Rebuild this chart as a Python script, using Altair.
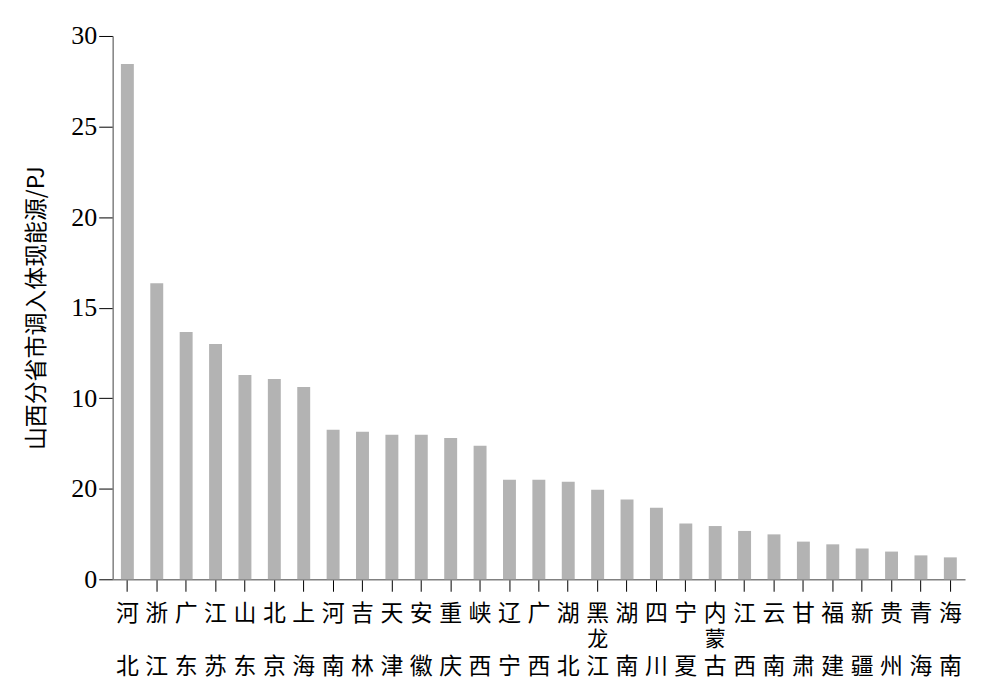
import altair as alt
import pandas as pd

provinces = ["河北", "浙江", "广东", "江苏", "山东", "北京", "上海", "河南", "吉林", "天津",
             "安徽", "重庆", "峡西", "辽宁", "广西", "湖北", "黑龙江", "湖南", "四川", "宁夏",
             "内蒙古", "江西", "云南", "甘肃", "福建", "新疆", "贵州", "青海", "海南"]
values = [28.45, 16.35, 13.65, 12.99, 11.28, 11.06, 10.62, 8.26, 8.15, 7.98,
          7.98, 7.80, 7.37, 5.50, 5.50, 5.39, 4.95, 4.40, 3.95, 3.08,
          2.94, 2.67, 2.48, 2.08, 1.93, 1.70, 1.53, 1.32, 1.21]
y_ticks = [0, 5, 10, 15, 20, 25, 30]
y_tick_labels = ["0", "20", "10", "15", "20", "25", "30"]
y_title = "山西分省市调入体现能源/PJ"

df = pd.DataFrame({
    "province": provinces,
    "value": values,
    "top": [p[0] for p in provinces],
    "mid": [p[1] if len(p) == 3 else "" for p in provinces],
    "bot": [p[-1] for p in provinces],
})

W, H = 855, 545
CJK = "Noto Sans CJK SC"
SERIF = "Liberation Serif"

label_expr = "[" + ",".join("'%s'" % s for s in y_tick_labels) + "][round(datum.value/5)]"

x_enc = alt.X("province:N", sort=None,
              scale=alt.Scale(paddingInner=0.56, paddingOuter=0.28),
              axis=alt.Axis(labels=False, title=None, tickSize=12, tickColor="#000000",
                            tickWidth=1, domainColor="#808080", domainWidth=1.5, grid=False))

bars = alt.Chart(df).mark_bar(color="#b3b3b3").encode(
    x=x_enc,
    y=alt.Y("value:Q",
            scale=alt.Scale(domain=[0, 30], nice=False, zero=True),
            axis=alt.Axis(values=y_ticks, labelExpr=label_expr, title=y_title,
                          grid=False, tickSize=14, tickColor="#000000", tickWidth=1,
                          domainColor="#808080", domainWidth=1.5,
                          labelFont=SERIF, labelFontSize=26, labelColor="#000000",
                          labelPadding=2,
                          titleFont=CJK, titleFontSize=23, titleFontWeight="normal",
                          titleColor="#000000", titlePadding=22)),
)


def row(field, offset, size):
    return alt.Chart(df).mark_text(
        baseline="middle", align="center", fontSize=size, font=CJK, color="#000000"
    ).encode(
        x=alt.X("province:N", sort=None),
        y=alt.value(H + offset),
        text=alt.Text(field + ":N"),
    )


chart = alt.layer(bars, row("top", 35, 23), row("mid", 61, 21), row("bot", 88, 23)).properties(
    width=W, height=H,
    background="white",
    autosize=alt.AutoSizeParams(type="none"),
    padding={"left": 105, "top": 27, "right": 10, "bottom": 110},
).configure_view(stroke=None)

chart.save("out.html", embed_options={"renderer": "svg", "actions": False})
